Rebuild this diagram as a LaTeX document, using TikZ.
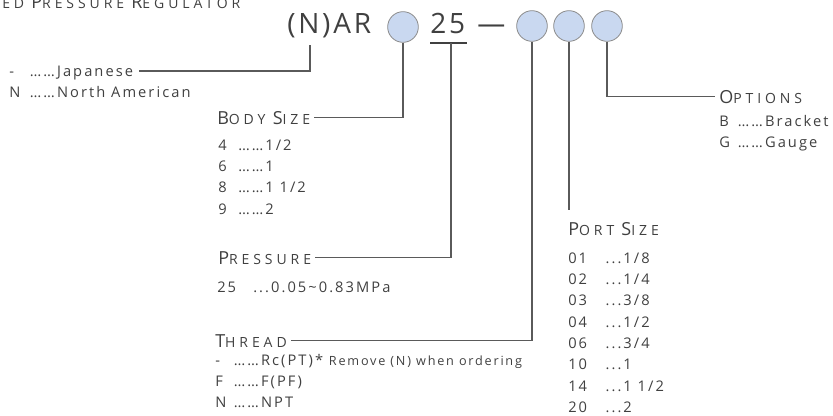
\documentclass[tikz,border=0pt]{standalone}
\usepackage{fontspec}
\setmainfont{Open Sans}
\newfontfamily\spaced{Open Sans}[LetterSpace=14]
\newfontfamily\headfont{Open Sans}[LetterSpace=28]
\newfontfamily\bigfont{Open Sans}[LetterSpace=10]
\definecolor{ink}{HTML}{404040}
\definecolor{dotblue}{HTML}{C9D8F0}
\definecolor{rim}{HTML}{8C8C8C}
\definecolor{wire}{HTML}{5A5A5A}
\newcommand\hcap[2]{{\fontsize{13.5}{13.5}\selectfont #1}{\fontsize{10.5}{10.5}\selectfont #2}}
\tikzset{
  txt/.style={inner sep=0pt, anchor=base west, text=ink},
  lst/.style={txt, font=\spaced\fontsize{11}{16}\selectfont},
  head/.style={txt, font=\headfont},
  big/.style={txt, font=\bigfont\fontsize{21}{21}\selectfont},
  dot/.style={circle, draw=rim, fill=dotblue, line width=0.6pt, minimum size=23pt, inner sep=0pt},
  wire/.style={draw=wire, line width=0.8pt},
}
\begin{document}
\begin{tikzpicture}[x=0.75pt, y=-0.75pt]
  \useasboundingbox (0,0) rectangle (833,415);

  % title, cut at the top
  \node[head] (title) at (2,8) {\hcap{}{ED} \hcap{P}{RESSURE} \hcap{R}{EGULATOR}};

  % model code
  \node[big] (nar) at (287,33) {(N)AR};
  \node[dot] (c1) at (403,27) {};
  \node[big] (num) at (430,33) {25};
  \node[big] (bar) at (477,33) {—};
  \node[dot] (c2) at (532,26) {};
  \node[dot] (c3) at (569,26) {};
  \node[dot] (c4) at (607,26) {};
  \coordinate (nfoot) at (310,45);
  \coordinate (ul) at (451,43);
  \draw[draw=ink, line width=0.9pt] (num.west |- ul) -- ([xshift=1pt]num.east |- ul);

  % region
  \node[lst] (jplist) at (9,76) {\begin{tabular}[t]{@{}p{15.5pt}@{}l@{}}- & ……Japanese\\N & ……North American\end{tabular}};
  \coordinate (jpend) at (139,71);
  \draw[wire] (nfoot) |- (jpend);

  % body size
  \node[head] (bodysize) at (217,124) {\hcap{B}{ODY} \hcap{S}{IZE}};
  \node[lst] (bslist) at (218,150) {\begin{tabular}[t]{@{}p{15pt}@{}l@{}}4 & ……1/2\\6 & ……1\\8 & ……1 1/2\\9 & ……2\end{tabular}};
  \draw[wire] (c1.south) |- ([xshift=3pt]bodysize.east);

  % pressure
  \node[head] (pressure) at (218,264) {\hcap{P}{RESSURE}};
  \node[lst] (prlist) at (217,292) {\begin{tabular}[t]{@{}p{27pt}@{}l@{}}25 & ...0.05\textasciitilde 0.83MPa\end{tabular}};
  \draw[wire] (ul) |- ([xshift=3pt]pressure.east);

  % thread
  \node[head] (thread) at (215,347) {\hcap{T}{HREAD}};
  \node[lst] (thlist) at (215,365) {\begin{tabular}[t]{@{}p{14pt}@{}l@{}}- & ……Rc(PT)* {\fontsize{9.5}{9.5}\selectfont Remove (N) when ordering}\\F & ……F(PF)\\N & ……NPT\end{tabular}};
  \draw[wire] (c2.south) |- ([xshift=3pt]thread.east);

  % port size
  \node[head] (portsize) at (568,235) {\hcap{P}{ORT} \hcap{S}{IZE}};
  \node[lst] (pslist) at (568,263) {\begin{tabular}[t]{@{}p{28pt}@{}l@{}}01 & ...1/8\\02 & ...1/4\\03 & ...3/8\\04 & ...1/2\\06 & ...3/4\\10 & ...1\\14 & ...1 1/2\\20 & ...2\end{tabular}};
  \coordinate (psend) at (569,210);
  \draw[wire] (c3.south) -- (psend);

  % options
  \node[head] (options) at (719,103) {\hcap{O}{PTIONS}};
  \node[lst] (oplist) at (719,126) {\begin{tabular}[t]{@{}p{14pt}@{}l@{}}B & ……Bracket\\G & ……Gauge\end{tabular}};
  \draw[wire] (c4.south) |- ([xshift=-3pt]options.west);
\end{tikzpicture}
\end{document}
